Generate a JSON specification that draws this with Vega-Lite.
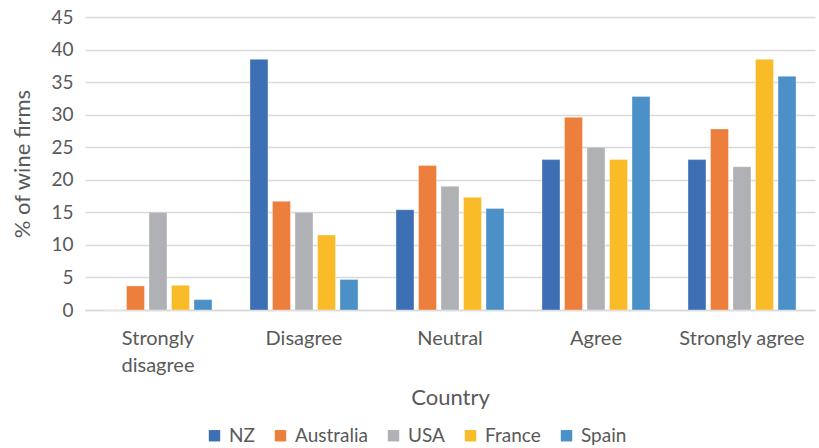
{
  "$schema": "https://vega.github.io/schema/vega-lite/v6.json",
  "width": 730,
  "height": 293,
  "autosize": {"type": "none"},
  "padding": {"left": 85, "top": 17, "right": 4, "bottom": 138},
  "background": "white",
  "config": {
    "font": "Lato",
    "view": {"stroke": null},
    "axis": {"labelColor": "#595959", "titleColor": "#595959", "labelFont": "Lato", "titleFont": "Lato", "titleFontWeight": "normal"}
  },
  "data": {
    "values": [
      {"response": "Strongly disagree", "country": "NZ", "pct": 0},
      {"response": "Strongly disagree", "country": "Australia", "pct": 3.7},
      {"response": "Strongly disagree", "country": "USA", "pct": 15.0},
      {"response": "Strongly disagree", "country": "France", "pct": 3.8},
      {"response": "Strongly disagree", "country": "Spain", "pct": 1.6},
      {"response": "Disagree", "country": "NZ", "pct": 38.5},
      {"response": "Disagree", "country": "Australia", "pct": 16.7},
      {"response": "Disagree", "country": "USA", "pct": 15.0},
      {"response": "Disagree", "country": "France", "pct": 11.5},
      {"response": "Disagree", "country": "Spain", "pct": 4.7},
      {"response": "Neutral", "country": "NZ", "pct": 15.4},
      {"response": "Neutral", "country": "Australia", "pct": 22.2},
      {"response": "Neutral", "country": "USA", "pct": 19.0},
      {"response": "Neutral", "country": "France", "pct": 17.3},
      {"response": "Neutral", "country": "Spain", "pct": 15.6},
      {"response": "Agree", "country": "NZ", "pct": 23.1},
      {"response": "Agree", "country": "Australia", "pct": 29.6},
      {"response": "Agree", "country": "USA", "pct": 25.0},
      {"response": "Agree", "country": "France", "pct": 23.1},
      {"response": "Agree", "country": "Spain", "pct": 32.8},
      {"response": "Strongly agree", "country": "NZ", "pct": 23.1},
      {"response": "Strongly agree", "country": "Australia", "pct": 27.8},
      {"response": "Strongly agree", "country": "USA", "pct": 22.0},
      {"response": "Strongly agree", "country": "France", "pct": 38.5},
      {"response": "Strongly agree", "country": "Spain", "pct": 35.9}
    ]
  },
  "mark": {"type": "bar", "stroke": "white", "strokeOpacity": 0.35, "strokeWidth": 1},
  "encoding": {
    "x": {
      "field": "response",
      "type": "nominal",
      "sort": ["Strongly disagree", "Disagree", "Neutral", "Agree", "Strongly agree"],
      "scale": {"paddingInner": 0.26, "paddingOuter": 0.13},
      "axis": {
        "title": "Country",
        "titleFontSize": 22,
        "titlePadding": 12,
        "labelAngle": 0,
        "labelFontSize": 20,
        "labelPadding": 18,
        "labelLineHeight": 27,
        "labelExpr": "datum.value == 'Strongly disagree' ? ['Strongly', 'disagree'] : datum.value",
        "ticks": false,
        "domainColor": "#d9d9d9",
        "domainWidth": 1.5
      }
    },
    "xOffset": {
      "field": "country",
      "type": "nominal",
      "sort": ["NZ", "Australia", "USA", "France", "Spain"],
      "scale": {"paddingInner": 0.2, "paddingOuter": 0}
    },
    "y": {
      "field": "pct",
      "type": "quantitative",
      "scale": {"domain": [0, 45], "nice": false},
      "axis": {
        "title": "% of wine firms",
        "titleFontSize": 22,
        "titlePadding": 16,
        "values": [0, 5, 10, 15, 20, 25, 30, 35, 40, 45],
        "labelFontSize": 19,
        "labelPadding": 12,
        "ticks": false,
        "domain": false,
        "gridColor": "#d9d9d9",
        "gridWidth": 1.5
      }
    },
    "color": {
      "field": "country",
      "type": "nominal",
      "sort": ["NZ", "Australia", "USA", "France", "Spain"],
      "scale": {
        "domain": ["NZ", "Australia", "USA", "France", "Spain"],
        "range": ["#3d6fb5", "#ec7f3b", "#b0b1b4", "#f9bb27", "#4b91c8"]
      },
      "legend": {
        "title": null,
        "orient": "none",
        "direction": "horizontal",
        "legendX": 120,
        "legendY": 409,
        "symbolType": "square",
        "symbolSize": 130,
        "symbolStrokeWidth": 0,
        "labelFontSize": 19,
        "labelColor": "#595959",
        "labelFont": "Lato",
        "columnPadding": 16,
        "labelOffset": 5
      }
    }
  }
}
